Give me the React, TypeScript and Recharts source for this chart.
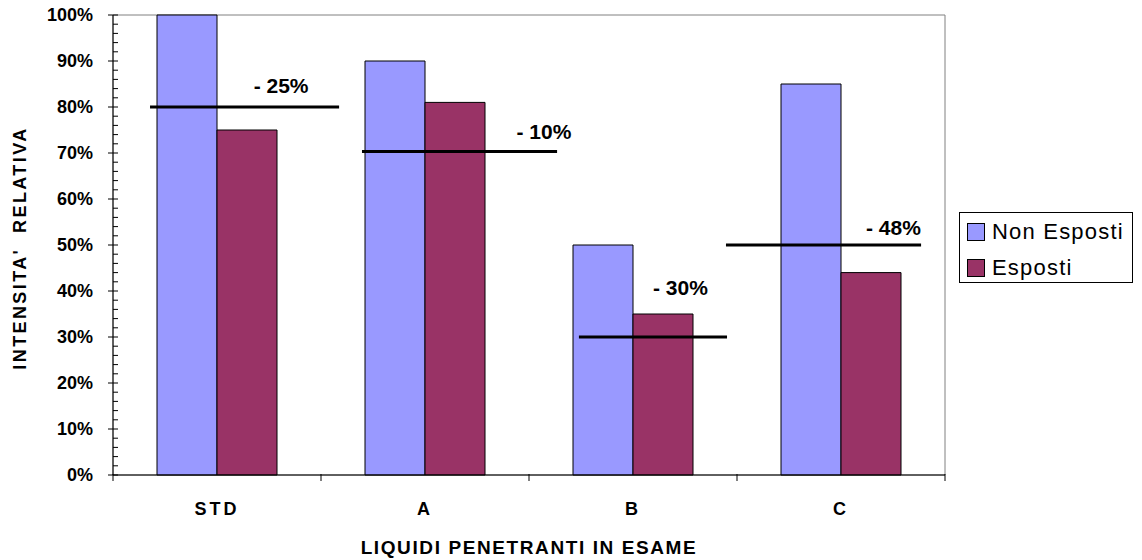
import React from 'react';
import {
  ComposedChart,
  Bar,
  XAxis,
  YAxis,
  Legend,
  ReferenceLine,
  ReferenceDot,
  ReferenceArea,
  Label,
} from 'recharts';

// Penetrant liquids under test
const categories = ['STD', 'A', 'B', 'C'];
// Relative intensity (%) before and after exposure
const nonEsposti = [100, 90, 50, 85];
const esposti = [75, 81, 35, 44];

// Drop annotations: text, level of the horizontal marker, its span in category units,
// and where the text sits (category units, % level)
const dropTexts = ['- 25%', '- 10%', '- 30%', '- 48%'];
const dropLevels = [80, 70.3, 30, 50];
const dropSpans: [number, number][] = [
  [0.178, 1.087],
  [1.197, 2.135],
  [2.24, 2.952],
  [2.947, 3.885],
];
const dropTextAt: [number, number][] = [
  [0.808, 84.7],
  [2.072, 74.7],
  [2.728, 40.7],
  [3.752, 53.9],
];

const yTicks = Array.from({ length: 51 }, (_, i) => i * 2);
const boundaryTicks = [0, 1, 2, 3, 4];

const COLOR_NON = '#9999FF';
const COLOR_ESP = '#993366';
const FONT = '"Liberation Sans", Arial, sans-serif';

// pos is the centre of each category on the continuous helper axis
const data = categories.map((name, i) => ({
  name,
  pos: i + 0.5,
  nonEsposti: nonEsposti[i],
  esposti: esposti[i],
}));

const NUM_AXIS = 0;
const CAT_AXIS = 1;

const YTick = (props: any) => {
  const { x, y, payload } = props;
  const v = payload.value as number;
  const major = v % 10 === 0;
  return (
    <g>
      <line x1={major ? x - 5 : x} x2={x + 5} y1={y} y2={y} stroke="#000" strokeWidth={1} />
      {major && (
        <text
          x={x - 20}
          y={y}
          dy="0.36em"
          textAnchor="end"
          fontFamily={FONT}
          fontWeight="bold"
          fontSize={18}
          fill="#000"
        >
          {`${v}%`}
        </text>
      )}
    </g>
  );
};

// Category boundary ticks: a short downward mark, no text
const BoundaryTick = (props: any) => {
  const { x, y } = props;
  return <line x1={x} x2={x} y1={y - 1} y2={y + 6} stroke="#000" strokeWidth={1} />;
};

const CatTick = (props: any) => {
  const { x, y, payload } = props;
  return (
    <text
      x={x}
      y={y + 39}
      textAnchor="middle"
      fontFamily={FONT}
      fontWeight="bold"
      fontSize={18}
      letterSpacing={3}
      fill="#000"
    >
      {payload.value}
    </text>
  );
};

const LegendBox = () => (
  <div
    style={{
      border: '1px solid #000',
      background: '#fff',
      width: 172,
      height: 69,
      boxSizing: 'content-box',
      fontFamily: FONT,
      fontSize: 22,
      letterSpacing: 1.2,
      color: '#000',
      position: 'relative',
    }}
  >
    {[
      { label: 'Non Esposti', color: COLOR_NON },
      { label: 'Esposti', color: COLOR_ESP },
    ].map((item, i) => (
      <div
        key={item.label}
        style={{
          position: 'absolute',
          left: 7,
          top: 10 + i * 36,
          display: 'flex',
          alignItems: 'center',
          height: 18,
        }}
      >
        <span
          style={{
            display: 'inline-block',
            width: 16,
            height: 16,
            background: item.color,
            border: '1px solid #000',
            marginRight: 7,
          }}
        />
        <span style={{ lineHeight: '18px', whiteSpace: 'nowrap' }}>{item.label}</span>
      </div>
    ))}
  </div>
);

const axisStroke = { stroke: '#000' };

export default function App() {
  return (
    <div style={{ position: 'absolute', left: 0, top: 0, background: '#fff' }}>
      <ComposedChart
        width={1142}
        height={560}
        data={data}
        margin={{ top: 15, right: 197, bottom: 0, left: 0 }}
        barCategoryGap={44}
        barGap={0}
      >
        <XAxis
          xAxisId={NUM_AXIS}
          dataKey="pos"
          type="number"
          domain={[0, 4]}
          ticks={boundaryTicks}
          interval={0}
          allowDataOverflow
          height={1}
          tickSize={0}
          tickMargin={0}
          tickLine={false}
          tick={<BoundaryTick />}
          axisLine={axisStroke}
        />
        <XAxis
          xAxisId={CAT_AXIS}
          dataKey="name"
          height={84}
          axisLine={false}
          tickLine={false}
          tickSize={0}
          tickMargin={0}
          tick={<CatTick />}
          interval={0}
        >
          <Label
            content={(p: any) => {
              const vb = p.viewBox;
              return (
                <text
                  x={vb.x + vb.width / 2}
                  y={vb.y + 78}
                  textAnchor="middle"
                  fontFamily={FONT}
                  fontWeight="bold"
                  fontSize={19}
                  letterSpacing={1.6}
                  fill="#000"
                >
                  LIQUIDI PENETRANTI IN ESAME
                </text>
              );
            }}
          />
        </XAxis>
        <YAxis
          width={113}
          domain={[0, 100]}
          ticks={yTicks}
          interval={0}
          tickSize={0}
          tickMargin={0}
          tickLine={false}
          axisLine={axisStroke}
          tick={<YTick />}
        >
          <Label
            content={(p: any) => {
              const vb = p.viewBox;
              const cx = vb.x + 20;
              const cy = vb.y + vb.height / 2 + 3;
              return (
                <text
                  x={cx}
                  y={cy}
                  transform={`rotate(-90 ${cx} ${cy})`}
                  dy="0.36em"
                  textAnchor="middle"
                  fontFamily={FONT}
                  fontWeight="bold"
                  fontSize={18}
                  letterSpacing={2.4}
                  fill="#000"
                  style={{ whiteSpace: 'pre' }}
                >
                  {"INTENSITA'  RELATIVA"}
                </text>
              );
            }}
          />
        </YAxis>
        <ReferenceArea
          xAxisId={NUM_AXIS}
          x1={0}
          x2={4}
          y1={0}
          y2={100}
          fill="none"
          stroke="#808080"
          strokeWidth={1}
          ifOverflow="visible"
        />
        <Bar
          xAxisId={CAT_AXIS}
          dataKey="nonEsposti"
          name="Non Esposti"
          fill={COLOR_NON}
          stroke="#000"
          strokeWidth={1}
          isAnimationActive={false}
        />
        <Bar
          xAxisId={CAT_AXIS}
          dataKey="esposti"
          name="Esposti"
          fill={COLOR_ESP}
          stroke="#000"
          strokeWidth={1}
          isAnimationActive={false}
        />
        {dropLevels.map((lvl, i) => (
          <ReferenceLine
            key={`line-${i}`}
            xAxisId={NUM_AXIS}
            segment={[
              { x: dropSpans[i][0], y: lvl },
              { x: dropSpans[i][1], y: lvl },
            ]}
            stroke="#000"
            strokeWidth={3}
            ifOverflow="visible"
          />
        ))}
        {dropTexts.map((t, i) => (
          <ReferenceDot
            key={`txt-${i}`}
            xAxisId={NUM_AXIS}
            x={dropTextAt[i][0]}
            y={dropTextAt[i][1]}
            r={1}
            fill="none"
            stroke="none"
            ifOverflow="visible"
            label={(p: any) => {
              const vb = p.viewBox;
              return (
                <text
                  x={vb.x + vb.width / 2}
                  y={vb.y + vb.height / 2}
                  dy="0.36em"
                  textAnchor="middle"
                  fontFamily={FONT}
                  fontWeight="bold"
                  fontSize={21}
                  fill="#000"
                >
                  {t}
                </text>
              );
            }}
          />
        ))}
        <Legend
          layout="vertical"
          align="center"
          verticalAlign="middle"
          wrapperStyle={{ left: 959, top: 212, width: 174 }}
          content={<LegendBox />}
        />
      </ComposedChart>
    </div>
  );
}
